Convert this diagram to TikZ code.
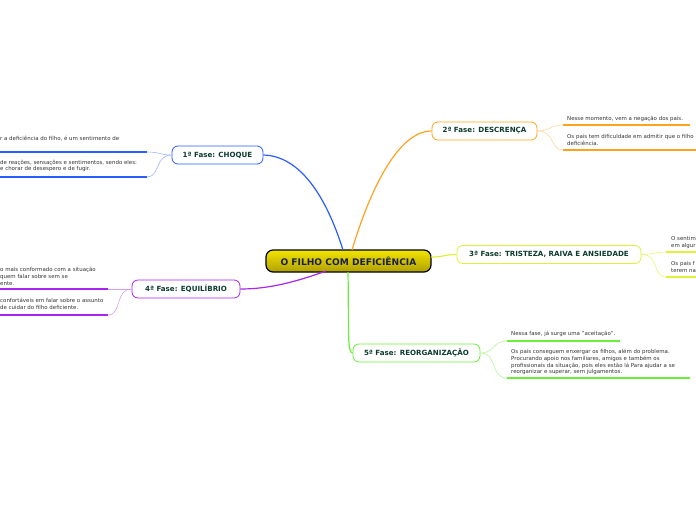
\documentclass[tikz,border=0pt]{standalone}
\usepackage{fontspec}
\setmainfont{DejaVu Sans}
\definecolor{choqueC}{HTML}{2A5CFF}
\definecolor{descC}{HTML}{FFA21F}
\definecolor{trisC}{HTML}{DDF03A}
\definecolor{equiC}{HTML}{A824F0}
\definecolor{reorgC}{HTML}{6AEE3A}
\definecolor{nodetext}{HTML}{0D3B2E}
\definecolor{centertext}{HTML}{1A1F4A}
\definecolor{leaftext}{HTML}{333333}
\definecolor{ctop}{HTML}{F2E400}
\definecolor{cbot}{HTML}{B0A000}
\tikzset{
  phase/.style={draw=#1, line width=0.8pt, rounded corners=6pt, fill=white,
    font=\bfseries\fontsize{7.1}{8}\selectfont, text=nodetext, inner sep=0pt,
    minimum height=18pt},
  centre/.style={draw=black, line width=1.2pt, rounded corners=7pt,
    top color=ctop, bottom color=cbot, font=\bfseries\fontsize{9.1}{10}\selectfont,
    text=centertext, inner sep=0pt, minimum height=22pt, minimum width=165pt},
  leaf/.style={font=\fontsize{5.45}{6.8}\selectfont, text=leaftext, align=left,
    inner sep=0pt},
  mainline/.style={draw=#1, line width=1.2pt},
  subline/.style={draw=#1, line width=0.6pt},
  uline/.style={draw=#1, line width=1.6pt},
}
\begin{document}
\begin{tikzpicture}[x=1pt,y=-1pt]
\useasboundingbox (0,0) rectangle (696,520);

% central node
\node[centre] (center) at (348.5,261) {O FILHO COM DEFICIÊNCIA};

% phase nodes
\node[phase=choqueC, minimum width=91pt] (choque) at (217.5,155) {1ª Fase: CHOQUE};
\node[phase=descC, minimum width=105pt] (desc) at (484.5,131) {2ª Fase: DESCRENÇA};
\node[phase=trisC, minimum width=184pt] (tris) at (549,254.5) {3ª Fase: TRISTEZA, RAIVA E ANSIEDADE};
\node[phase=equiC, minimum width=108pt] (equi) at (186,289) {4ª Fase: EQUILÍBRIO};
\node[phase=reorgC, minimum width=127pt] (reorg) at (416.5,353) {5ª Fase: REORGANIZAÇÃO};

% anchor points on the central node
\coordinate (cb) at (343,250);
\coordinate (co) at (352,250);
\coordinate (cy) at (431,257);
\coordinate (cp) at (326,271);
\coordinate (cg) at (348,272);

% main connectors
\draw[mainline=choqueC] (cb) .. controls (326,196) and (300,156) .. (choque.east);
\draw[mainline=descC] (co) .. controls (370,190) and (398,131) .. (desc.west);
\draw[mainline=trisC] (cy) .. controls (444,257) and (444,254.5) .. (tris.west);
\draw[mainline=equiC] (cp) .. controls (290,284) and (265,289) .. (equi.east);
\draw[mainline=reorgC] (cg) .. controls (349,330) and (347,353) .. (reorg.west);

% ---------- CHOQUE leaves ----------
\coordinate (ch1a) at (0,152); \coordinate (ch1b) at (147,152);
\coordinate (ch2a) at (0,177); \coordinate (ch2b) at (147,177);
\node[leaf, anchor=west] (ch1t) at (0,139) {r a deficiência do filho, é um sentimento de};
\node[leaf, anchor=west] (ch2t) at (0,166) {de reações, sensações e sentimentos, sendo eles:\\e chorar de desespero e de fugir.};
\draw[uline=choqueC] (ch1a) -- (ch1b);
\draw[uline=choqueC] (ch2a) -- (ch2b);
\draw[subline=choqueC!45] (choque.west) .. controls (160,155) and (160,152) .. (ch1b);
\draw[subline=choqueC!45] (choque.west) .. controls (155,155) and (160,177) .. (ch2b);

% ---------- DESCRENCA leaves ----------
\coordinate (de1a) at (563,125); \coordinate (de1b) at (690,125);
\coordinate (de2a) at (563,150); \coordinate (de2b) at (696,150);
\node[leaf, anchor=west] (de1t) at (567,119) {Nesse momento, vem a negação dos pais.};
\node[leaf, anchor=west] (de2t) at (567,140) {Os pais tem dificuldade em admitir que o filho\\deficiência.};
\draw[uline=descC] (de1a) -- (de1b);
\draw[uline=descC] (de2a) -- (de2b);
\draw[subline=descC!45] (desc.east) .. controls (550,131) and (550,125) .. (de1a);
\draw[subline=descC!45] (desc.east) .. controls (555,131) and (550,150) .. (de2a);

% ---------- TRISTEZA leaves ----------
\coordinate (tr1a) at (666,252); \coordinate (tr1b) at (696,252);
\coordinate (tr2a) at (666,277); \coordinate (tr2b) at (696,277);
\node[leaf, anchor=west] (tr1t) at (671,242.5) {O sentim\\em algur};
\node[leaf, anchor=west] (tr2t) at (671,267) {Os pais f\\terem na};
\draw[uline=trisC] (tr1a) -- (tr1b);
\draw[uline=trisC] (tr2a) -- (tr2b);
\draw[subline=trisC!70] (tris.east) .. controls (654,254.5) and (654,252) .. (tr1a);
\draw[subline=trisC!70] (tris.east) .. controls (660,254.5) and (652,277) .. (tr2a);

% ---------- EQUILIBRIO leaves ----------
\coordinate (eq1a) at (0,289); \coordinate (eq1b) at (108,289);
\coordinate (eq2a) at (0,315); \coordinate (eq2b) at (108,315);
\node[leaf, anchor=west] (eq1t) at (0,276.5) {o mais conformado com a situação\\quem falar sobre sem se\\ente.};
\node[leaf, anchor=west] (eq2t) at (0,304) {confortáveis em falar sobre o assunto\\de cuidar do filho deficiente.};
\draw[uline=equiC] (eq1a) -- (eq1b);
\draw[uline=equiC] (eq2a) -- (eq2b);
\draw[subline=equiC!45] (equi.west) .. controls (120,289) and (120,289) .. (eq1b);
\draw[subline=equiC!45] (equi.west) .. controls (115,289) and (122,315) .. (eq2b);

% ---------- REORGANIZACAO leaves ----------
\coordinate (re1a) at (507,341); \coordinate (re1b) at (620,341);
\coordinate (re2a) at (507,378); \coordinate (re2b) at (690,378);
\node[leaf, anchor=west] (re1t) at (511,334) {Nessa fase, já surge uma "aceitação".};
\node[leaf, anchor=west] (re2t) at (511,362) {Os pais conseguem enxergar os filhos, além do problema.\\Procurando apoio nos familiares, amigos e também os\\profissionais da situação, pois eles estão lá Para ajudar a se\\reorganizar e superar, sem julgamentos.};
\draw[uline=reorgC] (re1a) -- (re1b);
\draw[uline=reorgC] (re2a) -- (re2b);
\draw[subline=reorgC!50] (reorg.east) .. controls (495,353) and (492,341) .. (re1a);
\draw[subline=reorgC!50] (reorg.east) .. controls (498,353) and (490,378) .. (re2a);
\end{tikzpicture}
\end{document}
